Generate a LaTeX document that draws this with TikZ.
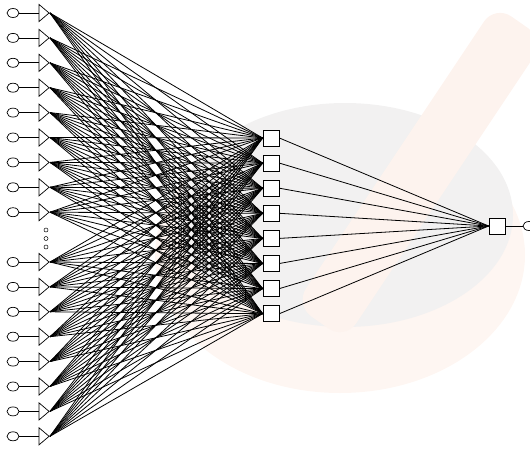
\documentclass[tikz,border=0pt]{standalone}
\usetikzlibrary{shapes.geometric}
\pgfdeclarelayer{wm}
\pgfdeclarelayer{bg}
\pgfsetlayers{wm,bg,main}
\definecolor{bowlgray}{HTML}{F2F1F1}
\definecolor{rimred}{HTML}{FEF6F2}
\definecolor{pestle}{HTML}{FDF3EE}
\begin{document}
\begin{tikzpicture}[x=1pt,y=-1pt,
  inp/.style={draw, ellipse, minimum width=12pt, minimum height=9pt, inner sep=0pt, fill=white, line width=0.7pt},
  tri/.style={draw, isosceles triangle, isosceles triangle stretches, minimum width=17pt, minimum height=10pt, inner sep=0pt, fill=white, line width=0.7pt},
  hid/.style={draw, rectangle, minimum size=16pt, inner sep=0pt, fill=white, line width=0.8pt},
  dotc/.style={draw, circle, minimum size=4pt, inner sep=0pt, line width=0.5pt},
  link/.style={line width=0.8pt}]
\useasboundingbox (0,0) rectangle (530,450);
\clip (0,0) rectangle (530,450);
\begin{pgfonlayer}{wm}
  \fill[rimred] (340,255) ellipse [x radius=185, y radius=138];
  \fill[bowlgray] (345,215) ellipse [x radius=168, y radius=112];
  \fill[pestle, rounded corners=20pt] (495,5) -- (545,40) -- (345,340) -- (295,305) -- cycle;
\end{pgfonlayer}
% inputs
\foreach \k [count=\i] in {0,1,2,3,4,5,6,7,8,10,11,12,13,14,15,16,17} {
  \pgfmathsetmacro\yy{13+24.9*\k}
  \node[inp] (c\i) at (13,\yy) {};
  \node[tri] (t\i) at (43,\yy) {};
}
\node[dotc] (d1) at (46,230) {};
\node[dotc] (d2) at (46,238.5) {};
\node[dotc] (d3) at (46,247) {};
% hidden
\foreach \j in {1,...,8} {
  \pgfmathsetmacro\yy{138+25.1*(\j-1)}
  \node[hid] (h\j) at (271,\yy) {};
}
\node[hid] (o) at (497,226) {};
\node[inp] (oc) at (529,226) {};
\begin{pgfonlayer}{bg}
  \foreach \i in {1,...,17} {
    \draw[link] (c\i) -- (t\i);
    \foreach \j in {1,...,8} {
      \draw[link] (t\i.apex) -- (h\j.west);
    }
  }
  \foreach \j in {1,...,8} {
    \draw[link] (h\j.east) -- (o.west);
  }
  \draw[link] (o) -- (oc);
\end{pgfonlayer}
\end{tikzpicture}
\end{document}
